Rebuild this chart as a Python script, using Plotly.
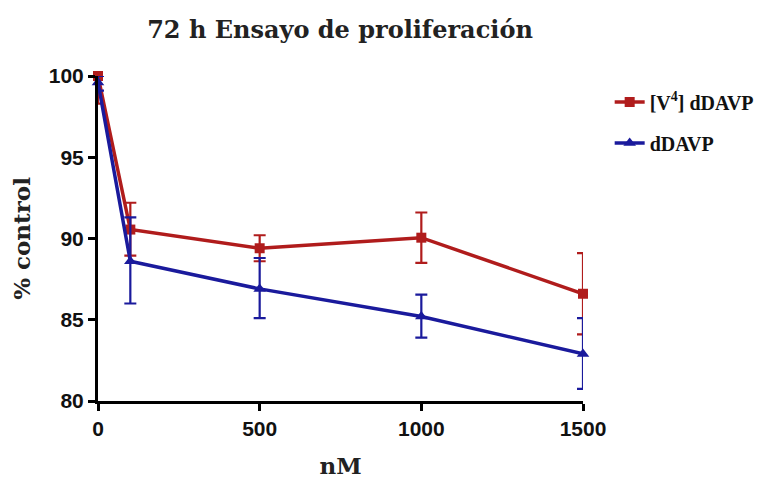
import plotly.graph_objects as go

x_vals = [0, 100, 500, 1000, 1500]
v4_mean = [100.0, 90.55, 89.4, 90.05, 86.6]
v4_err_plus = [0.0, 1.65, 0.8, 1.55, 2.5]
v4_err_minus = [1.7, 1.6, 0.8, 1.55, 2.5]
dd_mean = [99.6, 88.6, 86.9, 85.2, 82.9]
dd_err_plus = [0.4, 2.7, 1.9, 1.35, 2.2]
dd_err_minus = [0.5, 2.6, 1.8, 1.3, 2.15]
y_ticks = [80, 85, 90, 95, 100]
x_ticks = [0, 500, 1000, 1500]

red = "#B01C1C"
blue = "#1A1A9C"

fig = go.Figure()
fig.add_trace(go.Scatter(
    x=x_vals, y=v4_mean, mode="lines+markers", name="<b>[V<sup>4</sup>] dDAVP</b>",
    legendgroup="a",
    line=dict(color=red, width=3.5),
    marker=dict(symbol="square", size=10, color=red),
    error_y=dict(type="data", symmetric=False, array=v4_err_plus, arrayminus=v4_err_minus,
                 color=red, thickness=2.2, width=6),
    cliponaxis=False,
))
fig.add_trace(go.Scatter(
    x=x_vals, y=dd_mean, mode="lines+markers", name="<b>dDAVP</b>",
    legendgroup="b",
    line=dict(color=blue, width=3.5),
    marker=dict(symbol="triangle-up", size=11, color=blue),
    error_y=dict(type="data", symmetric=False, array=dd_err_plus, arrayminus=dd_err_minus,
                 color=blue, thickness=2.2, width=6),
    cliponaxis=False,
))

fig.update_layout(
    width=770, height=478,
    margin=dict(l=90, r=195, t=68, b=85),
    plot_bgcolor="white", paper_bgcolor="white",
    title=dict(text="<b>72 h Ensayo de proliferación</b>", x=332 / 770, xanchor="center",
               y=1 - 22 / 478, yanchor="middle",
               font=dict(family="DejaVu Serif", size=24, color="#222222")),
    legend=dict(x=1.055, y=0.98, xanchor="left", yanchor="top",
                font=dict(family="Liberation Serif", size=20, color="#111111"),
                bgcolor="rgba(0,0,0,0)", tracegroupgap=12, itemwidth=30,
                traceorder="grouped"),
    showlegend=True,
)
fig.update_xaxes(
    range=[0, 1500], tickvals=x_ticks, ticktext=[str(t) for t in x_ticks],
    showline=True, linecolor="black", linewidth=3, ticks="outside", tickwidth=3,
    ticklen=7, tickcolor="black", showgrid=False, zeroline=False, automargin=False,
    tickfont=dict(family="Liberation Sans", size=21, color="#111111", weight="bold"),
    title=dict(text="<b>nM</b>", font=dict(family="DejaVu Serif", size=23, color="#222222"), standoff=19),
)
fig.update_yaxes(
    range=[80, 100], tickvals=y_ticks, ticktext=[str(t) for t in y_ticks],
    showline=True, linecolor="black", linewidth=3, ticks="outside", tickwidth=3,
    ticklen=7, tickcolor="black", showgrid=False, zeroline=False, automargin=False,
    tickfont=dict(family="Liberation Sans", size=21, color="#111111", weight="bold"),
    title=dict(text="<b>% control</b>", font=dict(family="DejaVu Serif", size=23, color="#222222"), standoff=18),
)

fig.write_html("out.html")
